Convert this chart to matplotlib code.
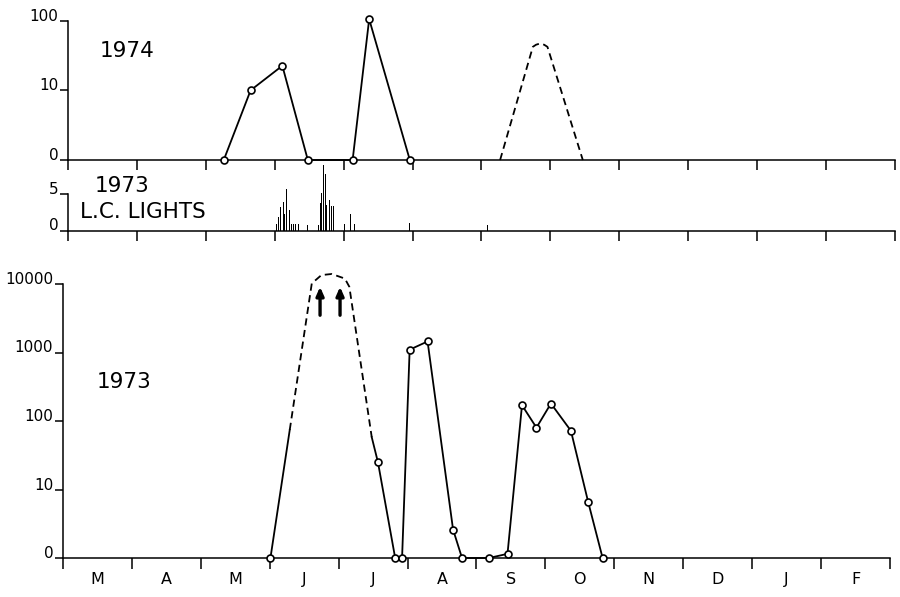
import numpy as np
import matplotlib
matplotlib.use("Agg")
import matplotlib.pyplot as plt

# ---------------- data ----------------
months = ['M', 'A', 'M', 'J', 'J', 'A', 'S', 'O', 'N', 'D', 'J', 'F']

# 1974 catches (x in months from 1 March)
x1974 = [2.26, 2.65, 3.11, 3.48, 4.13, 4.37, 4.96]
v1974 = [0, 10, 22.5, 0, 0, 105, 0]
# 1974 estimated (dashed) peak
x1974_est = [6.27, 6.745, 6.79, 6.85, 6.91, 6.957, 7.47]
v1974_est = [0, 42, 45, 47, 45, 42, 0]

# 1973 light-trap counts (L.C. lights)
x_lights = [3.02, 3.055, 3.09, 3.12, 3.14, 3.17, 3.21, 3.24, 3.27, 3.30, 3.34,
            3.47, 3.63, 3.66, 3.68, 3.71, 3.73, 3.75, 3.79, 3.82, 3.85,
            4.01, 4.10, 4.155, 4.95, 6.09]
v_lights = [0.9, 1.8, 3.2, 3.8, 2.2, 5.6, 2.8, 0.9, 0.9, 0.9, 0.9,
            0.8, 0.8, 3.7, 5.1, 8.9, 7.6, 3.5, 4.1, 3.3, 3.3,
            0.9, 2.2, 0.9, 1.0, 0.7]

# 1973 catches
x1973 = [3.01, 4.57, 4.82, 4.92, 5.03, 5.29, 5.66, 5.79, 6.18, 6.45,
         6.66, 6.87, 7.08, 7.37, 7.62, 7.83]
v1973 = [0, 25, 0, 0, 1100, 1450, 2.6, 0, 0, 1.15,
         170, 80, 180, 72, 6.6, 0]
# 1973 estimated envelope of the June/July peak
x1973_env = [3.01, 3.29, 3.61, 3.75, 3.90, 4.09, 4.155, 4.48, 4.57]
v1973_env = [0, 74, 10200, 13500, 14000, 12000, 9100, 58, 25]
# arrows (values exceed the scale)
x_arrows = [3.73, 4.02]
arrow_from, arrow_to = 3500, 9100


def pos(v):
    v = np.asarray(v, dtype=float)
    return np.where(v == 0, 1.0, v)


W, H = 900, 597
fig = plt.figure(figsize=(W / 100, H / 100), dpi=100)
plt.rcParams['font.family'] = ['DejaVu Sans']

def frac(left, right, bottom, top):
    return [left / W, 1 - bottom / H, (right - left) / W, (bottom - top) / H]

LW = 1.3
SP = 1.1
MK = dict(marker='o', ms=5, mfc='white', mec='black', mew=1.2)

def style_axes(ax, tick_len=7):
    for s in ('top', 'right'):
        ax.spines[s].set_visible(False)
    for s in ('left', 'bottom'):
        ax.spines[s].set_linewidth(SP)
    ax.set_xlim(0, 12)
    ax.set_xticks(range(13))
    ax.tick_params(axis='x', direction='out', length=tick_len, width=SP,
                   labelbottom=False)
    ax.tick_params(axis='y', direction='out', length=6, width=SP, pad=1,
                   labelsize=11)
    ax.yaxis.set_minor_locator(matplotlib.ticker.NullLocator())
    for lab in ax.get_yticklabels():
        lab.set_va('baseline')
    ax.patch.set_alpha(0)

# ---------- top: 1974 ----------
ax1 = fig.add_axes(frac(68, 895, 160, 8))
ax1.set_yscale('log')
ax1.set_ylim(1, 10 ** ((160 - 8) / 69.7))
ax1.set_yticks([1, 10, 100])
ax1.set_yticklabels(['0', '10', '100'])
ax1.spines['left'].set_bounds(1, 100)
style_axes(ax1, 7)
ax1.plot(x1974, pos(v1974), color='black', lw=LW, clip_on=False, zorder=3, **MK)
ax1.plot(x1974_est, pos(v1974_est), color='black', lw=LW, dashes=(4, 2.5),
         clip_on=False)

# ---------- middle: 1973 L.C. lights ----------
ax2 = fig.add_axes(frac(68, 895, 230.5, 160))
ax2.set_ylim(0, 70.5 / 7.4)
ax2.set_yticks([0, 5])
ax2.set_yticklabels(['0', '5'])
ax2.spines['left'].set_bounds(0, 5)
style_axes(ax2, 7)
ax2.bar(x_lights, v_lights, width=0.014, color='black', align='center')

# ---------- bottom: 1973 ----------
ax3 = fig.add_axes(frac(63, 890, 558, 262))
ax3.set_yscale('log')
ax3.set_ylim(1, 10 ** ((558 - 262) / 68.5))
ax3.set_yticks([1, 10, 100, 1000, 10000])
ax3.set_yticklabels(['0', '10', '100', '1000', '10000'])
ax3.spines['left'].set_bounds(1, 10000)
style_axes(ax3, 8)
ax3.set_xticks(np.arange(12) + 0.5, minor=True)
ax3.set_xticklabels(months, minor=True)
ax3.tick_params(axis='x', which='minor', length=0, pad=10, labelsize=11.5,
                labelbottom=True)

ex = np.array(x1973_env)
ev = pos(v1973_env)
ax3.plot(ex[:2], ev[:2], color='black', lw=LW, clip_on=False)
ax3.plot(ex[1:8], ev[1:8], color='black', lw=LW, dashes=(4, 2.5))
ax3.plot(ex[7:], ev[7:], color='black', lw=LW)
xv = np.array(x1973)
vv = pos(v1973)
ax3.plot(xv[1:], vv[1:], color='black', lw=LW, clip_on=False, zorder=3)
ax3.plot(xv, vv, linestyle='none', clip_on=False, zorder=4, **MK)
for xa in x_arrows:
    ax3.annotate('', xy=(xa, arrow_to), xytext=(xa, arrow_from),
                 arrowprops=dict(arrowstyle='-|>,head_length=0.5,head_width=0.22',
                                 lw=2.4, color='black', shrinkA=0, shrinkB=0))

# ---------- labels ----------
def ftext(x, y, s):
    fig.text(x / W, 1 - y / H, s, fontsize=15.5, va='baseline', ha='left')

ftext(100, 57, '1974')
ftext(95, 192, '1973')
ftext(80, 218, 'L.C. LIGHTS')
ftext(97, 388, '1973')

fig.savefig('out.png', dpi=100)
